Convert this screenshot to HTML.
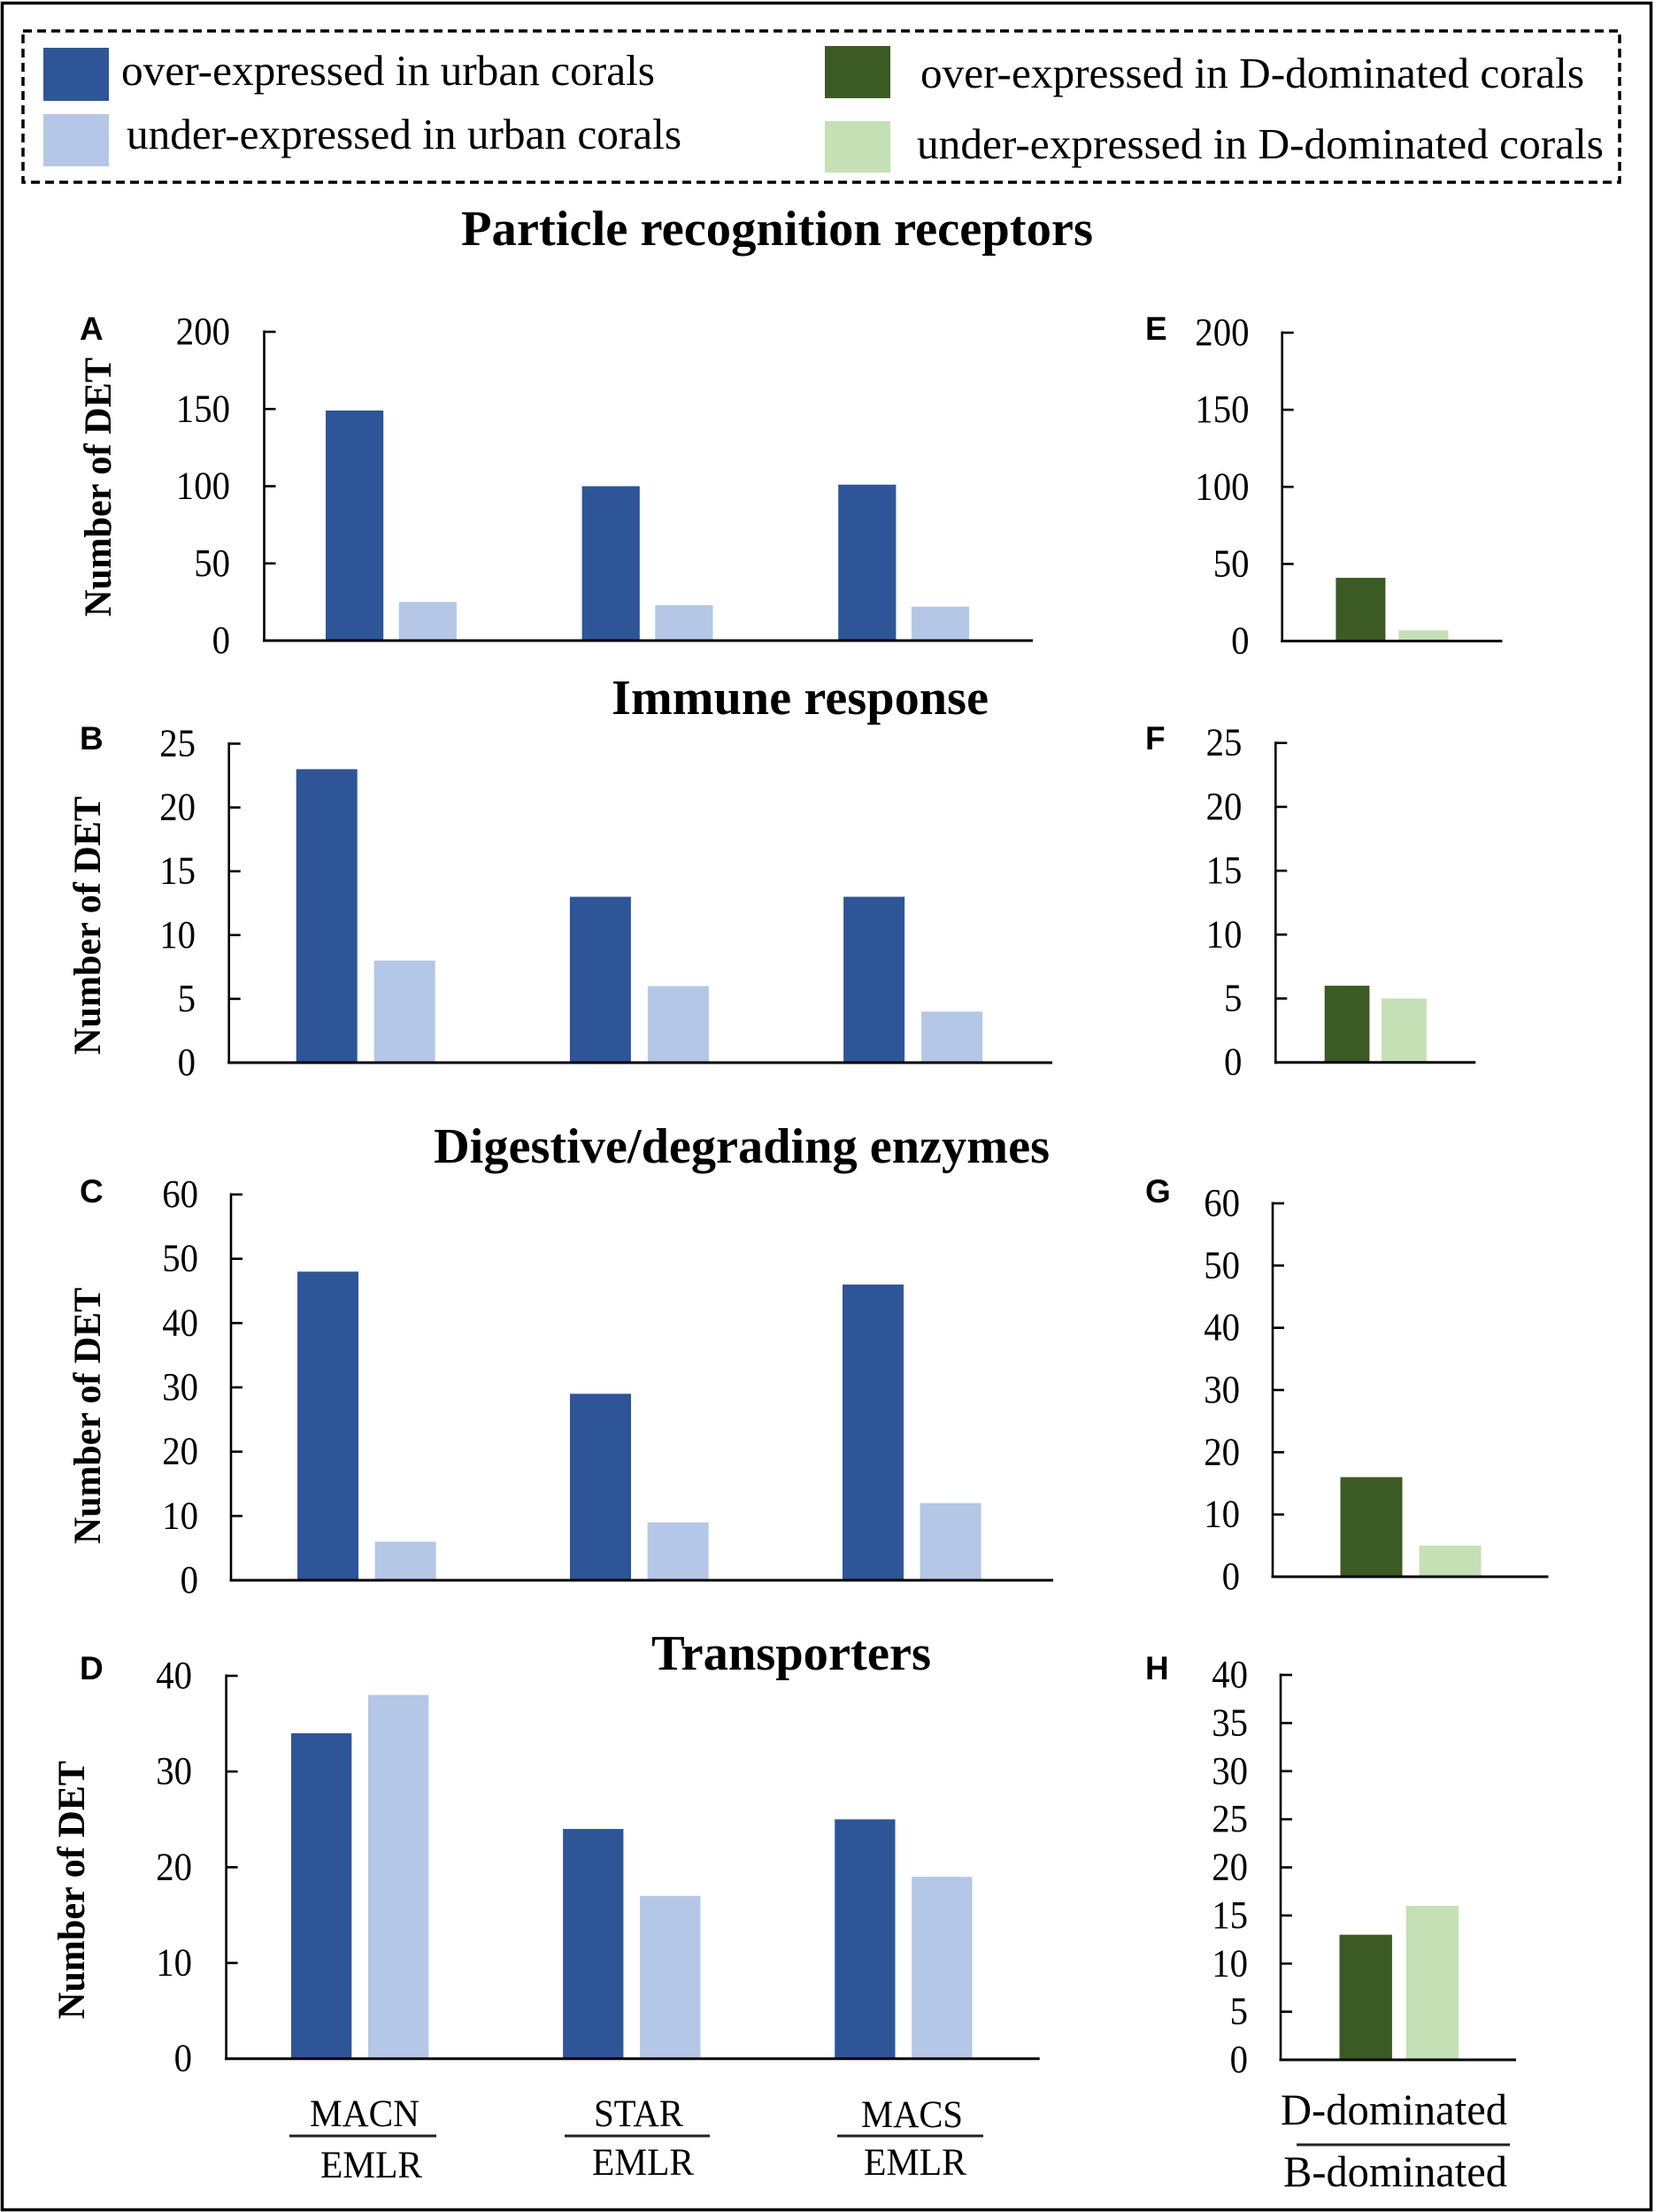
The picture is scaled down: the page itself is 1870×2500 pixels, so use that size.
<!DOCTYPE html>
<html lang="en">
<head>
<meta charset="utf-8">
<title>Number of DET by functional category</title>
<style>
  html, body { margin: 0; padding: 0; background: #fff; }
  svg { display: block; }
  text { font-family: "Liberation Serif", serif; fill: #000; }
  .title { font-size: 56px; font-weight: bold; }
  .legend-text { font-size: 49px; }
  .xlabel { font-size: 43px; }
  .xlabel-big { font-size: 50px; }
  .tick-label { font-size: 44px; text-anchor: end; }
  .panel-letter { font-family: "Liberation Sans", sans-serif; font-size: 37px; font-weight: bold; }
  .ylabel { font-size: 43px; font-weight: bold; }
</style>
</head>
<body>
<svg id="figure" xmlns="http://www.w3.org/2000/svg" width="1870" height="2500" viewBox="0 0 1870 2500">
  <rect x="0" y="0" width="1870" height="2500" fill="#fff"/>
  <rect x="2.5" y="3.5" width="1863" height="2494" fill="none" stroke="#000" stroke-width="3.5"/>

  <g>
    <rect x="26" y="35" width="1804" height="171" fill="none" stroke="#000" stroke-width="3.5" stroke-dasharray="10 6"/>
    <rect x="49" y="54" width="74" height="60" fill="#2E5597"/>
    <text class="legend-text" x="137" y="96" textLength="603" lengthAdjust="spacingAndGlyphs">over-expressed in urban corals</text>
    <rect x="49" y="129" width="74" height="59" fill="#B4C7E7"/>
    <text class="legend-text" x="143" y="168" textLength="627" lengthAdjust="spacingAndGlyphs">under-expressed in urban corals</text>
    <rect x="932" y="52" width="74" height="59" fill="#3B5A24"/>
    <text class="legend-text" x="1040" y="99" textLength="750" lengthAdjust="spacingAndGlyphs">over-expressed in D-dominated corals</text>
    <rect x="932" y="137" width="74" height="58" fill="#C5E0B4"/>
    <text class="legend-text" x="1036" y="179" textLength="776" lengthAdjust="spacingAndGlyphs">under-expressed in D-dominated corals</text>
  </g>

  <text class="title" x="521" y="277" textLength="714" lengthAdjust="spacingAndGlyphs">Particle recognition receptors</text>
  <text class="title" x="691" y="807" textLength="426" lengthAdjust="spacing">Immune response</text>
  <text class="title" x="490" y="1314" textLength="696" lengthAdjust="spacingAndGlyphs">Digestive/degrading enzymes</text>
  <text class="title" x="736" y="1887" textLength="316" lengthAdjust="spacingAndGlyphs">Transporters</text>

  <g id="panels"></g>

  <g>
    <text class="xlabel" x="350" y="2403" textLength="124" lengthAdjust="spacingAndGlyphs">MACN</text>
    <line x1="327" x2="493" y1="2414" y2="2414" stroke="#222" stroke-width="3"/>
    <text class="xlabel" x="362" y="2461" textLength="115" lengthAdjust="spacingAndGlyphs">EMLR</text>
    <text class="xlabel" x="671" y="2403" textLength="101" lengthAdjust="spacingAndGlyphs">STAR</text>
    <line x1="638" x2="802" y1="2414" y2="2414" stroke="#222" stroke-width="3"/>
    <text class="xlabel" x="669" y="2458" textLength="115" lengthAdjust="spacingAndGlyphs">EMLR</text>
    <text class="xlabel" x="973" y="2404" textLength="115" lengthAdjust="spacingAndGlyphs">MACS</text>
    <line x1="946" x2="1111" y1="2414" y2="2414" stroke="#222" stroke-width="3"/>
    <text class="xlabel" x="976" y="2458" textLength="116" lengthAdjust="spacingAndGlyphs">EMLR</text>
    <text class="xlabel-big" x="1447" y="2401" textLength="256" lengthAdjust="spacingAndGlyphs">D-dominated</text>
    <line x1="1465" x2="1706" y1="2424" y2="2424" stroke="#222" stroke-width="3"/>
    <text class="xlabel-big" x="1450" y="2471" textLength="253" lengthAdjust="spacingAndGlyphs">B-dominated</text>
  </g>
</svg>

<script>
// ---- data ----
const siteCategories = ['MACN/EMLR', 'STAR/EMLR', 'MACS/EMLR'];
const symbiontCategories = ['D-dominated/B-dominated'];

const ticksA = [0, 50, 100, 150, 200];
const overA = [149, 100, 101];
const underA = [25, 23, 22];

const ticksB = [0, 5, 10, 15, 20, 25];
const overB = [23, 13, 13];
const underB = [8, 6, 4];

const ticksC = [0, 10, 20, 30, 40, 50, 60];
const overC = [48, 29, 46];
const underC = [6, 9, 12];

const ticksD = [0, 10, 20, 30, 40];
const overD = [34, 24, 25];
const underD = [38, 17, 19];

const ticksE = [0, 50, 100, 150, 200];
const overE = [41];
const underE = [7];

const ticksF = [0, 5, 10, 15, 20, 25];
const overF = [6];
const underF = [5];

const ticksG = [0, 10, 20, 30, 40, 50, 60];
const overG = [16];
const underG = [5];

const ticksH = [0, 5, 10, 15, 20, 25, 30, 35, 40];
const overH = [13];
const underH = [16];

// ---- panel frames (geometry only; marks come from the data above) ----
const BLUE = '#2E5597', LIGHT_BLUE = '#B4C7E7', GREEN = '#3B5A24', LIGHT_GREEN = '#C5E0B4';
const panels = [
  {id:'a', letter:'A', letterX:90,  letterY:384,  axisX:298.5, top:375,   zero:724,    end:1167,   labelX:260,    x0:368,    step:289.6, w:65.2, gap:17.5, ticks:ticksA, over:overA, under:underA, cats:siteCategories, colors:[BLUE,LIGHT_BLUE], yl:{x:125,y0:404,y1:697}},
  {id:'b', letter:'B', letterX:90,  letterY:847,  axisX:258.7, top:840.5, zero:1201,   end:1189,   labelX:221,    x0:334.7,  step:309.2, w:69,   gap:19,   ticks:ticksB, over:overB, under:underB, cats:siteCategories, colors:[BLUE,LIGHT_BLUE], yl:{x:113,y0:900,y1:1192}},
  {id:'c', letter:'C', letterX:90,  letterY:1359, axisX:261,   top:1350,  zero:1786,   end:1190,   labelX:224,    x0:336,    step:308,   w:69,   gap:18.6, ticks:ticksC, over:overC, under:underC, cats:siteCategories, colors:[BLUE,LIGHT_BLUE], yl:{x:113,y0:1455,y1:1745}},
  {id:'d', letter:'D', letterX:90,  letterY:1898, axisX:255.6, top:1894,  zero:2326.7, end:1174.7, labelX:217,    x0:329,    step:307.1, w:68.3, gap:18.7, ticks:ticksD, over:overD, under:underD, cats:siteCategories, colors:[BLUE,LIGHT_BLUE], yl:{x:95,y0:1990,y1:2282}},
  {id:'e', letter:'E', letterX:1294,letterY:384,  axisX:1448.7,top:376,   zero:724.5,  end:1697.4, labelX:1411.5, x0:1509.4, step:0,     w:56,   gap:15,   ticks:ticksE, over:overE, under:underE, cats:symbiontCategories, colors:[GREEN,LIGHT_GREEN]},
  {id:'f', letter:'F', letterX:1294,letterY:847,  axisX:1441.3,top:839.7, zero:1200.7, end:1667.3, labelX:1403.4, x0:1496.7, step:0,     w:50.7, gap:13.7, ticks:ticksF, over:overF, under:underF, cats:symbiontCategories, colors:[GREEN,LIGHT_GREEN]},
  {id:'g', letter:'G', letterX:1294,letterY:1359, axisX:1438,  top:1360,  zero:1782,   end:1749.5, labelX:1401,   x0:1514.5, step:0,     w:70,   gap:19,   ticks:ticksG, over:overG, under:underG, cats:symbiontCategories, colors:[GREEN,LIGHT_GREEN]},
  {id:'h', letter:'H', letterX:1294,letterY:1898, axisX:1447,  top:1893,  zero:2328,   end:1713,   labelX:1410,   x0:1513.5, step:0,     w:59.4, gap:15.8, ticks:ticksH, over:overH, under:underH, cats:symbiontCategories, colors:[GREEN,LIGHT_GREEN]}
];

const SVG_NS = 'http://www.w3.org/2000/svg';
const root = document.getElementById('panels');

function make(tag, parent, attrs) {
  const el = document.createElementNS(SVG_NS, tag);
  for (const k in attrs) el.setAttribute(k, attrs[k]);
  parent.appendChild(el);
  return el;
}

panels.forEach(function (p) {
  const maxTick = Math.max.apply(null, p.ticks);
  const yScale = function (v) { return p.zero - (v / maxTick) * (p.zero - p.top); };
  const xScale = function (cat, series) { return p.x0 + p.step * cat + (p.w + p.gap) * series; };

  const g = make('g', root, {});
  
  

  // bars
  [p.over, p.under].forEach(function (values, s) {
    values.forEach(function (v, i) {
      const bar = make('rect', g, {x: xScale(i, s), y: yScale(v), width: p.w, height: p.zero - yScale(v), fill: p.colors[s]});
      
      
    });
  });

  // y axis line
  const yAxis = make('line', g, {x1: p.axisX, x2: p.axisX, y1: p.top - 1.5, y2: p.zero + 1.5, stroke: '#000', 'stroke-width': 2.6});
  
  

  // x axis line
  const xAxis = make('line', g, {x1: p.axisX - 1.5, x2: p.end, y1: p.zero, y2: p.zero, stroke: '#000', 'stroke-width': 3});
  
  

  // ticks and tick labels
  p.ticks.forEach(function (t) {
    if (t !== 0) {
      const tick = make('line', g, {x1: p.axisX, x2: p.axisX + 13, y1: yScale(t), y2: yScale(t), stroke: '#000', 'stroke-width': 2.6});
      
      
    }
    const label = make('text', g, {x: p.labelX, y: yScale(t) + 14, 'class': 'tick-label', textLength: String(t).length * 20.4, lengthAdjust: 'spacingAndGlyphs'});
    label.textContent = String(t);
    
    
  });

  // panel letter
  const letter = make('text', g, {x: p.letterX, y: p.letterY, 'class': 'panel-letter'});
  letter.textContent = p.letter;
  
  

  // y axis title
  if (p.yl) {
    const yl = make('text', g, {transform: 'translate(' + p.yl.x + ',' + p.yl.y1 + ') rotate(-90)', 'class': 'ylabel', textLength: p.yl.y1 - p.yl.y0, lengthAdjust: 'spacingAndGlyphs'});
    yl.textContent = 'Number of DET';
    
    
  }
});
</script>
</body>
</html>
